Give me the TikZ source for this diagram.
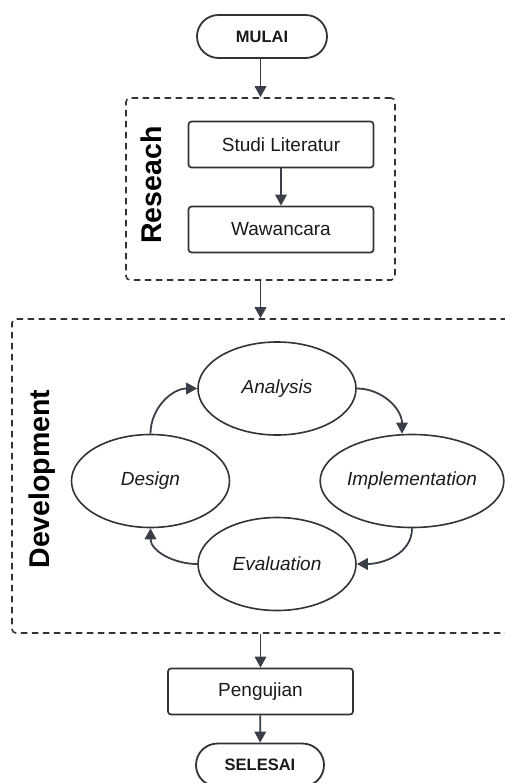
\documentclass[tikz,border=0pt]{standalone}
\usepackage{fontspec}
\setmainfont{Liberation Sans}
\usetikzlibrary{arrows.meta,shapes.geometric}

\definecolor{edge}{HTML}{333333}
\definecolor{arrowc}{HTML}{3A3E47}
\definecolor{ink}{HTML}{1A1A1A}

\tikzset{
  terminal/.style={draw=edge, line width=1.8pt, rounded corners=21.5pt,
    minimum width=130pt, minimum height=43pt, inner sep=0pt,
    font=\fontsize{16.5}{18}\selectfont\bfseries, text=ink},
  stepbox/.style={draw=edge, line width=1.7pt, rounded corners=3pt,
    minimum width=185pt, minimum height=46pt, inner sep=0pt,
    font=\fontsize{19}{22}\selectfont, text=ink},
  phase/.style={draw=edge, line width=1.6pt, ellipse,
    minimum width=158pt, minimum height=93pt, inner sep=0pt,
    font=\fontsize{19}{22}\selectfont\itshape, text=ink},
  group/.style={draw=edge, line width=1.6pt, dash pattern=on 6.5pt off 4.5pt,
    rounded corners=4pt, inner sep=0pt},
  grouplabel/.style={rotate=90, font=\fontsize{28.5}{32}\selectfont\bfseries, text=black},
  flow/.style={draw=arrowc, line width=1.8pt, -{Triangle[length=11pt,width=11.5pt]}},
}

\begin{document}
\begin{tikzpicture}[x=1pt,y=-1pt]
\useasboundingbox (0,0) rectangle (505,783);

% start / end
\node[terminal] (start) at (262,36.5) {MULAI};

% research stage
\node[group, minimum width=269pt, minimum height=182pt] (research) at (260.5,189) {};
\node[grouplabel] (reslabel) at (151,185) {Reseach};
\node[stepbox] (lit) at (281,144.5) {Studi Literatur};
\node[stepbox] (wawan) at (281,229.5) {Wawancara};

% development stage (open on the right)
\node[group, minimum width=510pt, minimum height=314pt] (dev) at (267,476) {};
\node[grouplabel] (devlabel) at (42,479) {Development};

\node[phase] (analysis) at (277,388.5) {Analysis};
\node[phase] (design) at (150.5,481) {Design};
\node[phase] (impl) at (412,481) {Implementation};
\node[phase] (eval) at (277,564) {Evaluation};

% testing and end
\node[stepbox] (test) at (260.5,691.5) {Pengujian};
\node[terminal, minimum width=128pt] (finish) at (260,765) {SELESAI};

% straight connectors
\draw[flow] (start.south -| research.north) -- (research.north);
\draw[flow] (lit) -- (wawan);
\draw[flow] (research.south) -- (research.south |- dev.north);
\draw[flow] (test.north |- dev.south) -- (test.north);
\draw[flow] (test) -- (finish);

% development cycle
\draw[flow] (design.north) to[out=90,in=180] (analysis.west);
\draw[flow] (analysis.east) to[out=0,in=90] ([xshift=-10pt]impl.north);
\draw[flow] (impl.south) to[out=-90,in=0] (eval.east);
\draw[flow] (eval.west) to[out=180,in=-90] (design.south);
\end{tikzpicture}
\end{document}
